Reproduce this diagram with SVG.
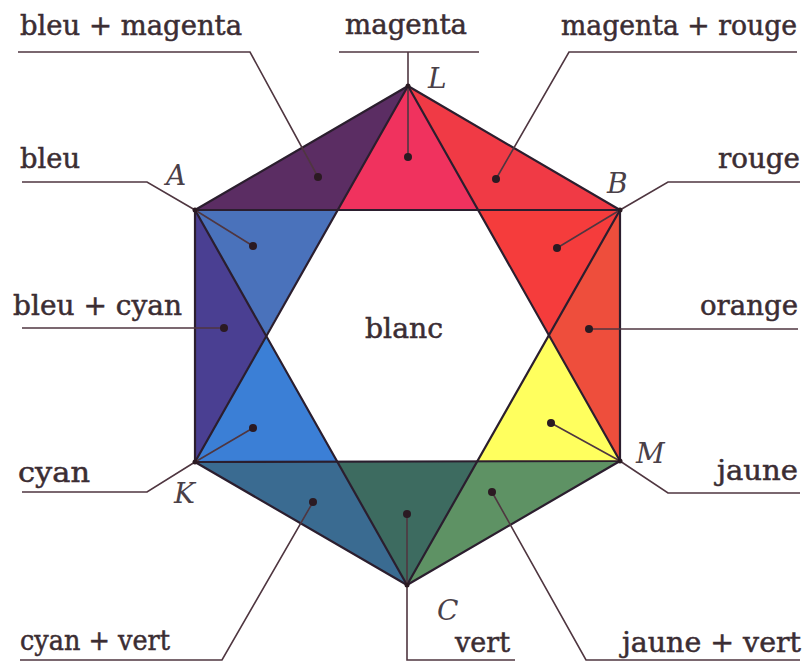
<svg xmlns="http://www.w3.org/2000/svg" width="804" height="663" viewBox="0 0 804 663">
<style>
.lbl{font-family:"DejaVu Serif","Liberation Serif",serif;font-size:27px;fill:#3b2d33;stroke:#3b2d33;stroke-width:0.5}
.vtx{font-family:"DejaVu Serif","Liberation Serif",serif;font-size:28px;font-style:italic;fill:#4a4048}
.edge{fill:none;stroke:#2b1e2e;stroke-width:2.2;stroke-linejoin:round}
.lead{fill:none;stroke:#4f3640;stroke-width:1.6}
.dot{fill:#2b1a22}
</style>
<rect width="804" height="663" fill="#ffffff"/>
<g id="regions">
<g id="r-magenta"><polygon points="408,86 338,210 478,210" fill="#f0325e"/></g>
<g id="r-bleu-magenta"><polygon points="408,86 195,210 338,210" fill="#5b2d63"/></g>
<g id="r-magenta-rouge"><polygon points="408,86 478,210 620,210" fill="#f03a45"/></g>
<g id="r-rouge"><polygon points="620,210 478,210 549,335" fill="#f53c3c"/></g>
<g id="r-orange"><polygon points="620,210 620,461 549,335" fill="#ee4e3c"/></g>
<g id="r-jaune"><polygon points="620,461 549,335 477,462" fill="#ffff5e"/></g>
<g id="r-jaune-vert"><polygon points="620,461 407,585 477,462" fill="#5e9264"/></g>
<g id="r-vert"><polygon points="407,585 477,462 338,462" fill="#3d6b60"/></g>
<g id="r-cyan-vert"><polygon points="407,585 338,462 195,462" fill="#3a6b91"/></g>
<g id="r-cyan"><polygon points="195,462 338,462 266,335" fill="#3b7fd6"/></g>
<g id="r-bleu-cyan"><polygon points="195,462 195,210 266,335" fill="#4a3f92"/></g>
<g id="r-bleu"><polygon points="195,210 266,335 338,210" fill="#4a72bb"/></g>
<g id="r-blanc"><polygon points="338,210 478,210 549,335 477,462 338,462 266,335" fill="#ffffff"/></g>
</g>
<g id="outlines">
<polygon class="edge" points="408,86 620,210 620,461 407,585 195,462 195,210"/>
<polygon class="edge" points="408,86 620,461 195,462"/>
<polygon class="edge" points="195,210 620,210 407,585"/>
</g>
<g id="connectors">
<polyline class="lead" points="18,52 250,52 318,177"/>
<polyline class="lead" points="339,52 479,52"/>
<polyline class="lead" points="408,52 408,157"/>
<polyline class="lead" points="797,52 569,52 496,179"/>
<polyline class="lead" points="22,182 147,182 195,210 253,246"/>
<polyline class="lead" points="800,182 668,182 620,210 557,248"/>
<polyline class="lead" points="22,328 224,328"/>
<polyline class="lead" points="798,329 589,329"/>
<polyline class="lead" points="22,492 147,492 195,462 253,428"/>
<polyline class="lead" points="800,493 668,493 620,461 551,423"/>
<polyline class="lead" points="20,660 222,660 313,502"/>
<polyline class="lead" points="407,514 407,660 515,660"/>
<polyline class="lead" points="800,660 586,660 492,492"/>
<g class="dot">
<circle cx="318" cy="177" r="4"/><circle cx="408" cy="157" r="4"/><circle cx="496" cy="179" r="4"/>
<circle cx="253" cy="246" r="4"/><circle cx="557" cy="248" r="4"/><circle cx="224" cy="328" r="4"/>
<circle cx="589" cy="329" r="4"/><circle cx="253" cy="428" r="4"/><circle cx="551" cy="423" r="4"/>
<circle cx="313" cy="502" r="4"/><circle cx="407" cy="514" r="4"/><circle cx="492" cy="492" r="4"/>
<circle cx="195" cy="210" r="2.5"/><circle cx="620" cy="210" r="2.5"/><circle cx="620" cy="461" r="2.5"/>
<circle cx="195" cy="462" r="2.5"/><circle cx="408" cy="86" r="2.5"/><circle cx="407" cy="585" r="2.5"/>
</g>
</g>
<g id="labels">
<g id="t-bleu-magenta"><text class="lbl" x="20" y="35" textLength="222" lengthAdjust="spacingAndGlyphs">bleu + magenta</text></g>
<g id="t-magenta"><text class="lbl" x="345" y="34" textLength="122" lengthAdjust="spacingAndGlyphs">magenta</text></g>
<g id="t-magenta-rouge"><text class="lbl" x="561" y="35" textLength="236" lengthAdjust="spacingAndGlyphs">magenta + rouge</text></g>
<g id="t-bleu"><text class="lbl" x="20" y="168" textLength="60" lengthAdjust="spacingAndGlyphs">bleu</text></g>
<g id="t-rouge"><text class="lbl" x="718" y="168" textLength="82" lengthAdjust="spacingAndGlyphs">rouge</text></g>
<g id="t-bleu-cyan"><text class="lbl" x="13" y="315" textLength="169" lengthAdjust="spacingAndGlyphs">bleu + cyan</text></g>
<g id="t-orange"><text class="lbl" x="700" y="315" textLength="98" lengthAdjust="spacingAndGlyphs">orange</text></g>
<g id="t-cyan"><text class="lbl" x="18" y="482" textLength="72" lengthAdjust="spacingAndGlyphs">cyan</text></g>
<g id="t-jaune"><text class="lbl" x="717" y="480" textLength="81" lengthAdjust="spacingAndGlyphs">jaune</text></g>
<g id="t-cyan-vert"><text class="lbl" x="20" y="650" textLength="150" lengthAdjust="spacingAndGlyphs">cyan + vert</text></g>
<g id="t-vert"><text class="lbl" x="455" y="652" textLength="55" lengthAdjust="spacingAndGlyphs">vert</text></g>
<g id="t-jaune-vert"><text class="lbl" x="622" y="652" textLength="179" lengthAdjust="spacingAndGlyphs">jaune + vert</text></g>
<g id="t-blanc"><text class="lbl" x="365" y="338" textLength="78" lengthAdjust="spacingAndGlyphs">blanc</text></g>
<g id="vertex-labels">
<text class="vtx" x="428" y="88">L</text>
<text class="vtx" x="166" y="185">A</text>
<text class="vtx" x="607" y="193">B</text>
<text class="vtx" x="636" y="463">M</text>
<text class="vtx" x="174" y="503">K</text>
<text class="vtx" x="437" y="620">C</text>
</g>
</g>
</svg>
